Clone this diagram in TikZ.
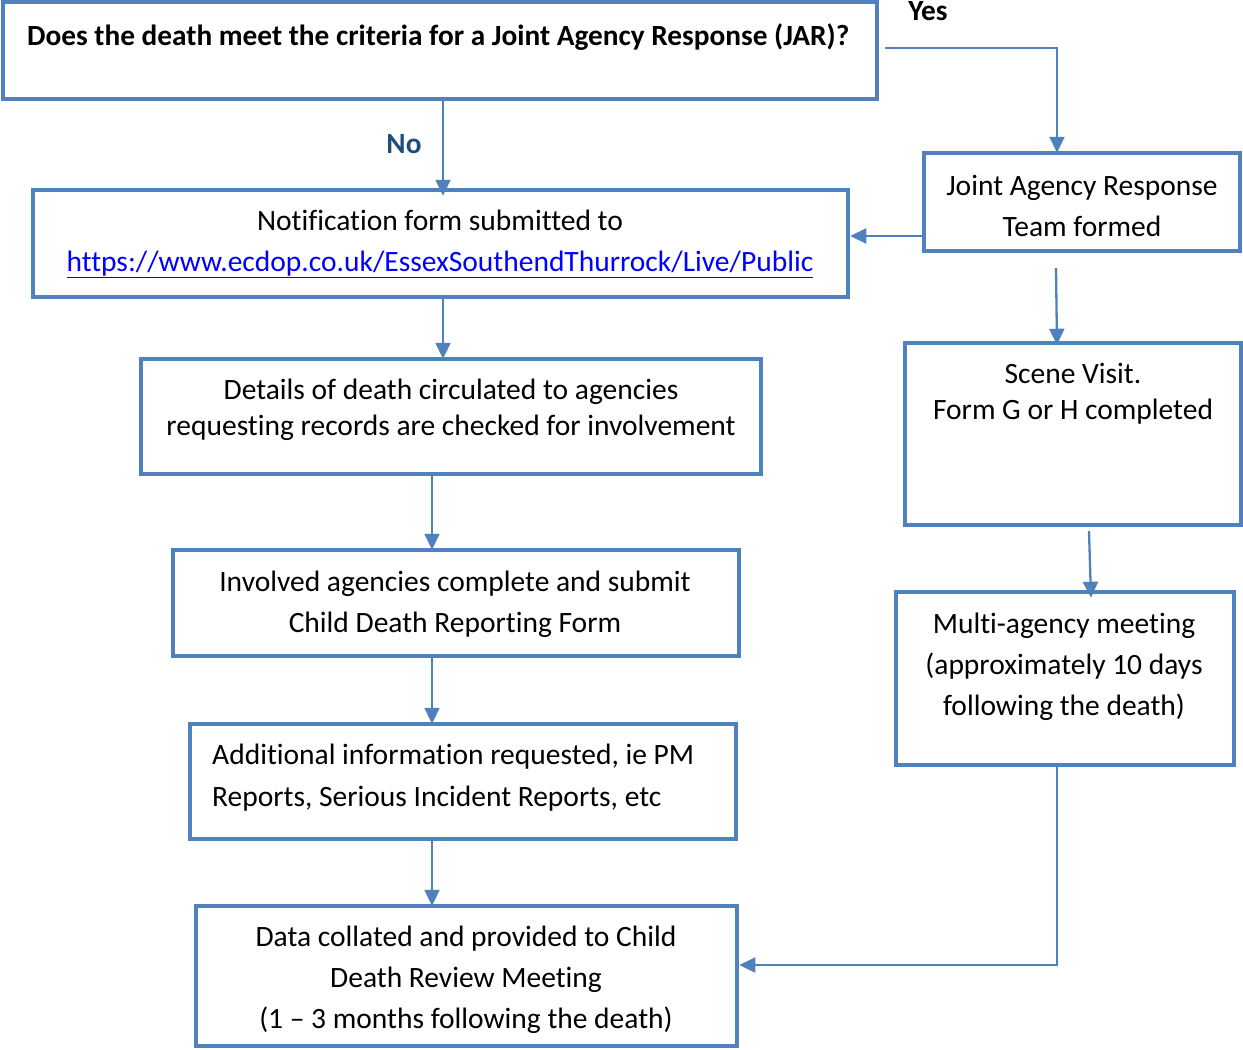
\documentclass[tikz,border=0pt]{standalone}
\usepackage{fontspec}
\setmainfont{Carlito}[Ligatures=NoCommon]
\usetikzlibrary{arrows.meta}
\definecolor{boxblue}{HTML}{4F81BD}
\definecolor{noblue}{HTML}{1F4E79}
\definecolor{linkblue}{HTML}{0000FF}
\tikzset{
  box/.style={draw=boxblue, line width=4.5pt, fill=none, inner sep=0pt},
  txt/.style={inner sep=0pt, align=center, font=\fontsize{29.5}{41}\selectfont},
  conn/.style={draw=boxblue, line width=2.3pt, -{Triangle[length=16pt,width=15pt]}},
  lab/.style={inner sep=0pt, font=\fontsize{29.3}{30}\selectfont\bfseries}
}
\begin{document}
\begin{tikzpicture}[x=1pt,y=-1pt]
\useasboundingbox (0,0) rectangle (1243,1050);
% boxes
\node[box, minimum width=874pt, minimum height=97pt] (q) at (440,50.5) {};
\node[box, minimum width=316pt, minimum height=98pt] (jar) at (1082,202) {};
\node[box, minimum width=815pt, minimum height=107pt] (notif) at (440.5,243.5) {};
\node[box, minimum width=620pt, minimum height=115pt] (det) at (451,416.5) {};
\node[box, minimum width=566pt, minimum height=106pt] (inv) at (456,603) {};
\node[box, minimum width=546pt, minimum height=115pt] (add) at (463,781.5) {};
\node[box, minimum width=541pt, minimum height=140pt] (data) at (466.5,976) {};
\node[box, minimum width=336pt, minimum height=182pt] (scene) at (1073,434) {};
\node[box, minimum width=338pt, minimum height=173pt] (multi) at (1065,678.5) {};
% texts
\node[lab, anchor=west] (qt) at (27,37) {Does the death meet the criteria for a Joint Agency Response (JAR)?};
\node[txt] (jart) at (1082,206) {Joint Agency Response\\Team formed};
\node[txt] (notift) at (440,244) {Notification form submitted to\\{\color{linkblue}\underline{https://www.ecdop.co.uk/EssexSouthendThurrock/Live/Public}}};
\node[txt, font=\fontsize{29.5}{36}\selectfont] (dett) at (451,410) {Details of death circulated to agencies\\requesting records are checked for involvement};
\node[txt] (invt) at (455,604) {Involved agencies complete and submit\\Child Death Reporting Form};
\node[txt, align=left, anchor=west, font=\fontsize{29.5}{42}\selectfont] (addt) at (212,778) {Additional information requested, ie PM\\Reports, Serious Incident Reports, etc};
\node[txt] (datat) at (466,980) {Data collated and provided to Child\\Death Review Meeting\\(1 -- 3 months following the death)};
\node[txt, font=\fontsize{29.5}{36}\selectfont] (scenet) at (1073,394) {Scene Visit.\\Form G or H completed};
\node[txt] (multit) at (1064,667) {Multi-agency meeting\\(approximately 10 days\\following the death)};
% labels
\node[lab, text=noblue] (nolab) at (404,144) {No};
\node[lab, anchor=north] (yeslab) at (928,1) {Yes};
% connectors
\coordinate (ys) at (885,48);
\coordinate (js) at (1056,268);
\coordinate (ss) at (1089,531);
\draw[conn] (ys) -- (1057,48) -- ([yshift=-2pt]jar.north -| 1057,0);
\draw[conn] (q.south -| 443,0) -- ([yshift=-8pt]notif.north -| 443,0);
\draw[conn] (jar.west |- 0,236) -- ([xshift=0pt]notif.east |- 0,236);
\draw[conn] (js) -- ([yshift=-4pt]scene.north -| 1057,0);
\draw[conn] (notif.south -| 443,0) -- ([yshift=-2pt]det.north -| 443,0);
\draw[conn] (det.south -| 432,0) -- ([yshift=-2pt]inv.north -| 432,0);
\draw[conn] (inv.south -| 432,0) -- ([yshift=-2pt]add.north -| 432,0);
\draw[conn] (add.south -| 432,0) -- ([yshift=-2pt]data.north -| 432,0);
\draw[conn] (ss) -- ([yshift=-8pt]multi.north -| 1091,0);
\draw[conn] (multi.south -| 1057,0) -- (1057,965) -- ([xshift=0pt]data.east |- 0,965);
\end{tikzpicture}
\end{document}
